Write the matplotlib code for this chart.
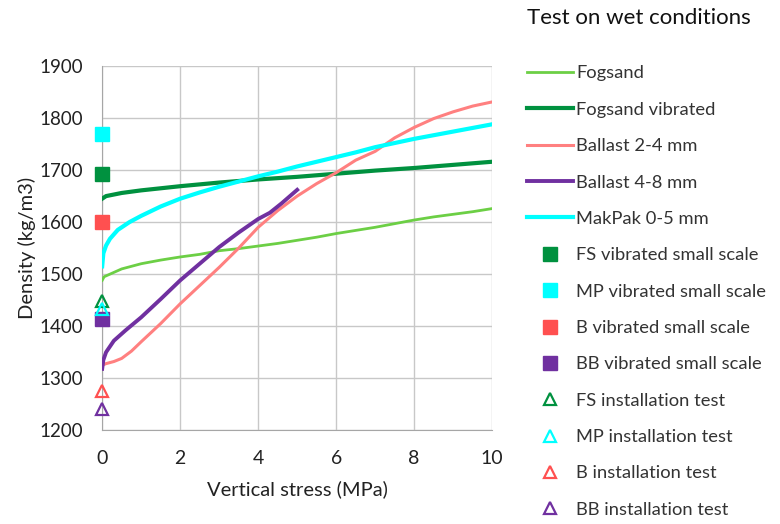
import matplotlib

matplotlib.use("Agg")
import matplotlib.pyplot as plt

plt.rcParams["font.family"] = ["Lato", "DejaVu Sans"]

# Compression curves: vertical stress (MPa) vs density (kg/m3)
fogsand_x = [0, 0.05, 0.2, 0.5, 1, 1.5, 2, 2.5, 3, 3.5, 4, 4.5, 5, 5.5, 6, 6.5, 7, 7.5, 8, 8.5, 9, 9.5, 10]
fogsand_y = [1488, 1495, 1500, 1510, 1520, 1527, 1533, 1538, 1545, 1549, 1554, 1559, 1565, 1571, 1578, 1584, 1590, 1597, 1604, 1610, 1615, 1620, 1626]

fogsand_vib_x = [0, 0.1, 0.5, 1, 2, 3, 4, 5, 6, 7, 8, 9, 10]
fogsand_vib_y = [1645, 1650, 1656, 1661, 1669, 1676, 1682, 1687, 1693, 1699, 1704, 1710, 1716]

ballast24_x = [0, 0.1, 0.3, 0.5, 0.75, 1, 1.5, 2, 2.5, 3, 3.5, 4, 4.5, 5, 5.5, 6, 6.5, 7, 7.5, 8, 8.5, 9, 9.5, 10]
ballast24_y = [1325, 1328, 1332, 1338, 1352, 1370, 1405, 1443, 1478, 1513, 1550, 1590, 1622, 1650, 1674, 1695, 1719, 1736, 1762, 1782, 1799, 1812, 1823, 1831]

ballast48_x = [0, 0.03, 0.1, 0.3, 0.6, 1, 1.5, 2, 2.5, 3, 3.5, 4, 4.3, 4.6, 5]
ballast48_y = [1318, 1335, 1350, 1372, 1392, 1417, 1452, 1488, 1520, 1552, 1580, 1606, 1618, 1636, 1662]

makpak_x = [0, 0.03, 0.1, 0.2, 0.4, 0.7, 1, 1.5, 2, 2.5, 3, 3.5, 4, 4.5, 5, 5.5, 6, 6.5, 7, 7.5, 8, 8.5, 9, 9.5, 10]
makpak_y = [1515, 1540, 1555, 1568, 1585, 1600, 1612, 1630, 1645, 1657, 1668, 1678, 1688, 1697, 1707, 1716, 1725, 1734, 1744, 1752, 1760, 1767, 1774, 1781, 1788]

# Single-point results at zero stress
vibrated_labels = ["FS vibrated small scale", "MP vibrated small scale", "B vibrated small scale", "BB vibrated small scale"]
vibrated_density = [1693, 1770, 1601, 1414]
install_labels = ["FS installation test", "MP installation test", "B installation test", "BB installation test"]
install_density = [1449, 1433, 1276, 1241]

c_light = "#6ccf45"
c_dark = "#00913f"
c_salmon = "#ff8080"
c_purple = "#7030a0"
c_cyan = "#00ffff"
point_colors = ["#00913f", "#00ffff", "#ff5050", "#7030a0"]

fig = plt.figure(figsize=(7.8, 5.24), dpi=100)
ax = fig.add_axes([0.131, 0.179, 0.500, 0.695])

ax.plot(fogsand_x, fogsand_y, color=c_light, lw=2.0, label="Fogsand", zorder=3)
ax.plot(fogsand_vib_x, fogsand_vib_y, color=c_dark, lw=3.0, label="Fogsand vibrated", zorder=3)
ax.plot(ballast24_x, ballast24_y, color=c_salmon, lw=2.2, label="Ballast 2-4 mm", zorder=3)
ax.plot(ballast48_x, ballast48_y, color=c_purple, lw=2.8, label="Ballast 4-8 mm", zorder=3)
ax.plot(makpak_x, makpak_y, color=c_cyan, lw=3.0, label="MakPak 0-5 mm", zorder=3)

for lab, val, col in zip(vibrated_labels, vibrated_density, point_colors):
    ax.plot([0], [val], ls="none", marker="s", ms=9.5, color=col, label=lab, zorder=4, clip_on=False)
for lab, val, col in zip(install_labels, install_density, point_colors):
    ax.plot([0], [val], ls="none", marker="^", ms=9, mfc="none", mec=col, mew=1.6, label=lab,
            zorder=4, clip_on=False)

ax.set_xlim(0, 10)
ax.set_ylim(1200, 1900)
ax.set_xticks([0, 2, 4, 6, 8, 10])
ax.set_yticks(range(1200, 1901, 100))
ax.grid(True, color="#c8c8c8", lw=1.0)
ax.set_axisbelow(True)
for side in ["top", "right"]:
    ax.spines[side].set_visible(False)
for side in ["left", "bottom"]:
    ax.spines[side].set_color("#a6a6a6")
ax.tick_params(axis="y", length=0, labelsize=13.5, colors="#222222", pad=14)
ax.tick_params(axis="x", length=0, labelsize=14, colors="#222222", pad=14)
ax.set_xlabel("Vertical stress (MPa)", fontsize=14.5, color="#222222", labelpad=10)
ax.set_ylabel("Density (kg/m3)", fontsize=14.5, color="#222222", labelpad=2)

handles, labels = ax.get_legend_handles_labels()
leg = fig.legend(handles, labels, loc="upper left", bbox_to_anchor=(0.666, 0.889),
                 frameon=False, fontsize=13.2, handlelength=2.5, handletextpad=0.2,
                 labelspacing=1.11, borderaxespad=0)
for t in leg.get_texts():
    t.set_color("#333333")

fig.text(0.676, 0.966, "Test on wet conditions", fontsize=16, color="#111111", va="center")

fig.savefig("out.png")
